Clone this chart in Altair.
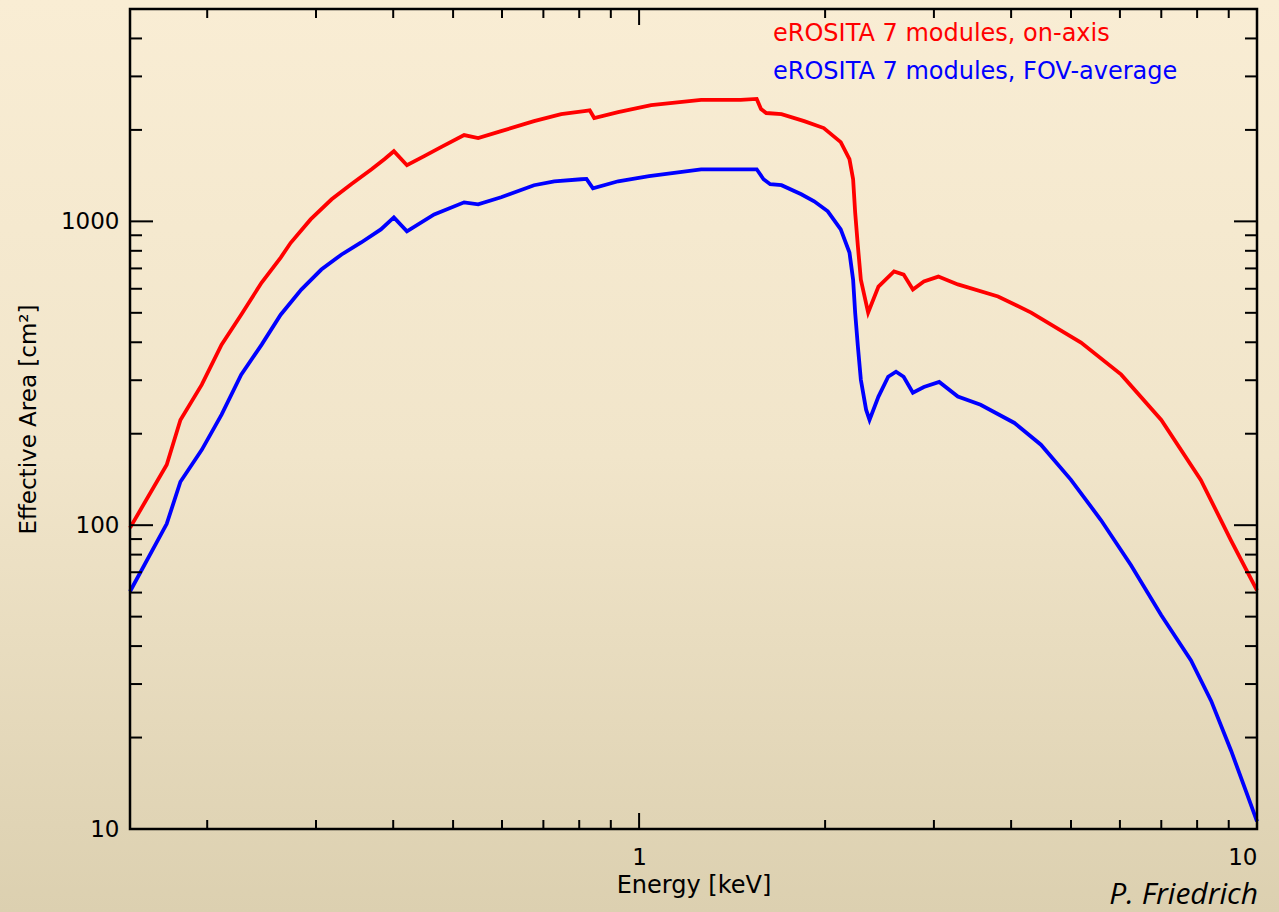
import altair as alt
import pandas as pd

# ---- data ----
energy_on = [0.15, 0.172, 0.181, 0.196, 0.211, 0.227, 0.245, 0.263, 0.273, 0.294, 0.318, 0.342,
             0.369, 0.387, 0.401, 0.421, 0.449, 0.478, 0.521, 0.549, 0.598, 0.676, 0.748, 0.815,
             0.832, 0.846, 0.925, 1.046, 1.26, 1.46, 1.55, 1.575, 1.606, 1.70, 1.85, 1.99, 2.12,
             2.19, 2.22, 2.237, 2.26, 2.285, 2.348, 2.44, 2.586, 2.68, 2.774, 2.89, 3.05, 3.28,
             3.81, 4.31, 5.19, 6.03, 7.0, 8.11, 9.08, 10.0]
area_on = [98, 158, 222, 290, 393, 493, 629, 760, 850, 1015, 1182, 1325,
           1484, 1602, 1702, 1530, 1640, 1755, 1923, 1880, 1981, 2138, 2255, 2307,
           2320, 2188, 2290, 2414, 2510, 2510, 2530, 2343, 2273, 2255, 2138, 2028, 1823,
           1602, 1376, 1071, 827, 643, 501, 610, 684, 668, 597, 634, 658, 620,
           566, 501, 399, 313, 222, 141, 89, 61]

energy_fov = [0.15, 0.172, 0.181, 0.196, 0.211, 0.227, 0.245, 0.263, 0.284, 0.306, 0.33, 0.355,
              0.382, 0.401, 0.421, 0.466, 0.521, 0.549, 0.598, 0.676, 0.729, 0.806, 0.822, 0.842,
              0.925, 1.038, 1.26, 1.46, 1.55, 1.59, 1.63, 1.70, 1.83, 1.92, 2.02, 2.12, 2.19,
              2.22, 2.237, 2.26, 2.285, 2.33, 2.36, 2.44, 2.53, 2.605, 2.68, 2.774, 2.89, 3.06,
              3.28, 3.57, 4.05, 4.47, 5.0, 5.59, 6.25, 7.0, 7.82, 8.43, 9.08, 9.6, 10.0]
area_fov = [60.5, 101, 139, 177, 231, 313, 393, 493, 596, 694, 778, 852,
            941, 1031, 927, 1054, 1155, 1138, 1200, 1315, 1355, 1376, 1380, 1285,
            1355, 1408, 1484, 1484, 1484, 1376, 1325, 1315, 1228, 1164, 1079, 941, 790,
            643, 501, 387, 301, 240, 222, 265, 308, 320, 308, 273, 285, 296,
            265, 249, 217, 184, 141, 104, 74, 50.5, 35.9, 26.4, 18.1, 13.3, 10.6]

series_names = ["eROSITA 7 modules, on-axis", "eROSITA 7 modules, FOV-average"]
series_colors = ["#ff0000", "#0000ff"]

x_major = [1, 10]
x_minor = [0.2, 0.3, 0.4, 0.5, 0.6, 0.7, 0.8, 0.9, 2, 3, 4, 5, 6, 7, 8, 9]
y_major = [10, 100, 1000]
y_minor = [20, 30, 40, 50, 60, 70, 80, 90, 200, 300, 400, 500, 600, 700, 800, 900,
           2000, 3000, 4000, 5000]

x_domain = [0.15, 10]
y_domain = [10, 5000]

# ---- layout ----
W, H = 1127, 820
PAD = {"left": 130, "top": 9, "right": 22, "bottom": 83}
FONT = "DejaVu Sans"

df = pd.concat([
    pd.DataFrame({"E": energy_on, "A": area_on, "series": series_names[0]}),
    pd.DataFrame({"E": energy_fov, "A": area_fov, "series": series_names[1]}),
])

xs = alt.Scale(type="log", domain=x_domain, nice=False)
ys = alt.Scale(type="log", domain=y_domain, nice=False)

x_axis = alt.Axis(values=x_major, format="d", title="Energy [keV]",
                  ticks=False, domain=False, grid=False, titleFontSize=24,
                  labelPadding=17, titlePadding=4, zindex=1)
y_axis = alt.Axis(values=y_major, format="d", title="Effective Area [cm²]",
                  ticks=False, domain=False, grid=False,
                  labelPadding=11, titlePadding=20, zindex=1)

bg = alt.Chart(alt.Data(values=[{}])).mark_rect(
    color=alt.Gradient(
        gradient="linear",
        stops=[alt.GradientStop(color="#f9edd4", offset=0),
               alt.GradientStop(color="#f1e5ca", offset=0.5),
               alt.GradientStop(color="#dcd0b0", offset=1)],
        x1=0, x2=0, y1=0, y2=1),
    strokeWidth=0,
).encode(
    x=alt.value(-PAD["left"]), x2=alt.value(W + PAD["right"]),
    y=alt.value(-PAD["top"]), y2=alt.value(H + PAD["bottom"]),
)

lines = alt.Chart(df).mark_line(strokeWidth=3.8, interpolate="linear").encode(
    x=alt.X("E:Q", scale=xs, axis=x_axis),
    y=alt.Y("A:Q", scale=ys, axis=y_axis),
    color=alt.Color("series:N", scale=alt.Scale(domain=series_names, range=series_colors),
                    legend=None),
    detail="series:N",
)

def xticks(vals, length):
    d = pd.DataFrame({"E": vals})
    bottom = alt.Chart(d).mark_rule(color="black", strokeWidth=2).encode(
        x=alt.X("E:Q", scale=xs, axis=x_axis), y=alt.value(H), y2=alt.value(H - length))
    top = alt.Chart(d).mark_rule(color="black", strokeWidth=2).encode(
        x=alt.X("E:Q", scale=xs, axis=x_axis), y=alt.value(0), y2=alt.value(length))
    return [bottom, top]

def yticks(vals, length):
    d = pd.DataFrame({"A": vals})
    left = alt.Chart(d).mark_rule(color="black", strokeWidth=2).encode(
        y=alt.Y("A:Q", scale=ys, axis=y_axis), x=alt.value(0), x2=alt.value(length))
    right = alt.Chart(d).mark_rule(color="black", strokeWidth=2).encode(
        y=alt.Y("A:Q", scale=ys, axis=y_axis), x=alt.value(W), x2=alt.value(W - length))
    return [left, right]

ticks = xticks(x_major, 16) + xticks(x_minor, 9) + yticks(y_major, 23) + yticks(y_minor, 12)

frame = alt.Chart(alt.Data(values=[{}])).mark_rect(
    filled=False, stroke="black", strokeWidth=2.5).encode(
    x=alt.value(0), x2=alt.value(W), y=alt.value(0), y2=alt.value(H))

legend_texts = []
for i, (name, col) in enumerate(zip(series_names, series_colors)):
    legend_texts.append(
        alt.Chart(alt.Data(values=[{"t": name}])).mark_text(
            align="left", baseline="middle", font=FONT, fontSize=24, color=col
        ).encode(text="t:N", x=alt.value(643), y=alt.value(25 + 38 * i))
    )

credit = alt.Chart(alt.Data(values=[{"t": "P. Friedrich"}])).mark_text(
    align="right", baseline="alphabetic", font="Open Sans", fontStyle="italic",
    fontSize=30, color="black"
).encode(text="t:N", x=alt.value(W + 1), y=alt.value(H + 75))

chart = alt.layer(bg, lines, *ticks, frame, *legend_texts, credit).properties(
    width=W, height=H,
    autosize=alt.AutoSizeParams(type="none"),
    padding=PAD,
    background="#e8dcc0",
).configure_view(stroke=None).configure_axis(
    labelFont=FONT, labelFontSize=23, labelColor="black",
    titleFont=FONT, titleFontSize=23, titleFontWeight="normal", titleColor="black",
)

chart.save("out.html", embed_options={"renderer": "svg", "actions": False})
